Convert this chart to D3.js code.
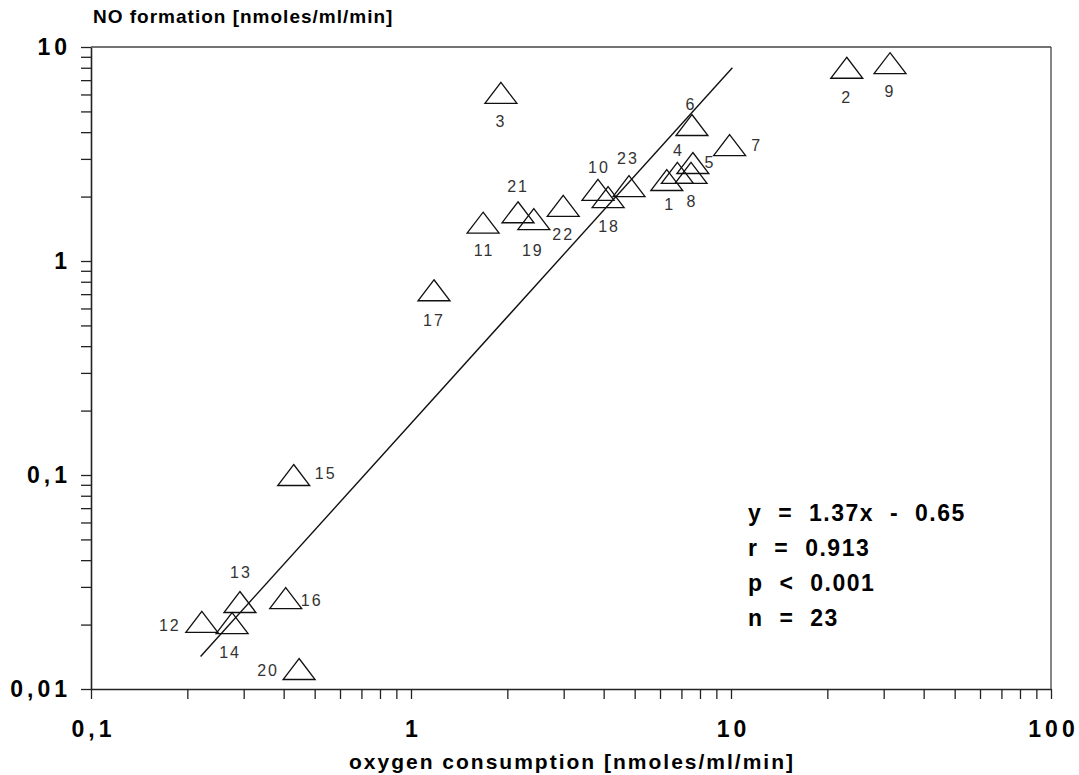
<!DOCTYPE html>
<html>
<head>
<meta charset="utf-8">
<script src="https://cdn.jsdelivr.net/npm/d3@7"></script>
<style>
  body { margin: 0; background: #fff; }
  text { font-family: "Liberation Sans", Arial, sans-serif; }
</style>
</head>
<body>
<svg id="chart" width="1079" height="775"></svg>
<script>
// sample ids, oxygen consumption (x) and NO formation (y)
const ids = ["1","2","3","4","5","6","7","8","9","10","11","12","13","14","15","16","17","18","19","20","21","22","23"];
const oxygen = [6.3, 23, 1.91, 6.8, 7.6, 7.55, 9.9, 7.5, 31.4, 3.84, 1.68, 0.222, 0.292, 0.276, 0.43, 0.406, 1.18, 4.13, 2.42, 0.447, 2.16, 2.99, 4.8];
const noForm = [2.39, 8.0, 6.1, 2.58, 2.87, 4.32, 3.48, 2.58, 8.4, 2.15, 1.51, 0.0206, 0.0255, 0.0203, 0.1, 0.0266, 0.73, 1.99, 1.57, 0.0124, 1.69, 1.81, 2.24];

// regression line end points
const fitX = [0.22, 10.1];
const fitY = [0.0142, 8.0];

const xTickLabels = ["0,1", "1", "10", "100"];
const yTickLabels = ["0,01", "0,1", "1", "10"];
const statsLines = ["y = 1.37x - 0.65", "r = 0.913", "p < 0.001", "n = 23"];

const svg = d3.select("#chart");
const margin = { top: 47, right: 28, bottom: 86, left: 91 };
const width = +svg.attr("width");
const height = +svg.attr("height");
const innerWidth = width - margin.left - margin.right;
const innerHeight = height - margin.top - margin.bottom;

const xScale = d3.scaleLog().domain([0.1, 100]).range([0, innerWidth]);
const yScale = d3.scaleLog().domain([0.01, 10]).range([innerHeight, 0]);

const g = svg.append("g").attr("transform", `translate(${margin.left},${margin.top})`);

// minor + major ticks for each decade
const logTicks = (lo, hi) => {
  const t = [];
  for (let d = lo; d < hi * 0.99; d *= 10) {
    for (let k = 1; k < 10; k++) t.push(d * k);
  }
  t.push(hi);
  return t;
};

const fmtX = d => {
  const i = [0.1, 1, 10, 100].findIndex(v => Math.abs(v - d) < 1e-9);
  return i >= 0 ? xTickLabels[i] : "";
};
const fmtY = d => {
  const i = [0.01, 0.1, 1, 10].findIndex(v => Math.abs(v - d) < 1e-9);
  return i >= 0 ? yTickLabels[i] : "";
};

const xAxis = g.append("g")
  .attr("transform", `translate(0,${innerHeight})`)
  .call(d3.axisBottom(xScale).tickValues(logTicks(0.1, 100)).tickSize(10).tickSizeOuter(0).tickFormat(fmtX));

const yAxis = g.append("g")
  .call(d3.axisLeft(yScale).tickValues(logTicks(0.01, 10)).tickSize(10).tickSizeOuter(0).tickFormat(fmtY));

[xAxis, yAxis].forEach(a => {
  a.select(".domain").attr("stroke", "#222").attr("stroke-width", 1.6);
  a.selectAll(".tick line").attr("stroke", "#222").attr("stroke-width", 1.3);
  a.selectAll(".tick text")
    .attr("fill", "#000")
    .style("font-size", "23px")
    .style("font-weight", "bold")
    .style("letter-spacing", "4px");
});
xAxis.selectAll(".tick text").attr("dy", "1.5em").attr("dx", 2);
yAxis.selectAll(".tick text").attr("x", -20);

// top and right frame
g.append("line").attr("x1", 0).attr("x2", innerWidth).attr("y1", 0).attr("y2", 0)
  .attr("stroke", "#444").attr("stroke-width", 1.5);
g.append("line").attr("x1", innerWidth).attr("x2", innerWidth).attr("y1", 0).attr("y2", innerHeight)
  .attr("stroke", "#444").attr("stroke-width", 1.3);

// regression line
g.append("line")
  .attr("x1", xScale(fitX[0])).attr("y1", yScale(fitY[0]))
  .attr("x2", xScale(fitX[1])).attr("y2", yScale(fitY[1]))
  .attr("stroke", "#111").attr("stroke-width", 1.4);

const points = ids.map((id, i) => ({ id, x: oxygen[i], y: noForm[i] }));

// triangle markers
const triW = 16, triH = 10.5;
g.selectAll(".tri")
  .data(points)
  .enter()
  .append("path")
  .attr("class", "tri")
  .attr("d", d => {
    const cx = xScale(d.x), cy = yScale(d.y);
    return `M${cx},${cy - triH}L${cx + triW},${cy + triH}L${cx - triW},${cy + triH}Z`;
  })
  .attr("fill", "none")
  .attr("stroke", "#111")
  .attr("stroke-width", 1.3);

// where each id label sits around its marker
const labelOffset = {
  "1": [3, 26], "2": [0, 31], "3": [0, 30], "4": [1, -21], "5": [17, 1], "6": [-1, -19],
  "7": [27, 2], "8": [1, 30], "9": [0, 30], "10": [1, -21], "11": [1, 29], "12": [-32, 5],
  "13": [1, -28], "14": [-2, 31], "15": [32, 0], "16": [26, 4], "17": [0, 32], "18": [1, 31],
  "19": [-1, 33], "20": [-31, 3], "21": [0, -24], "22": [0, 30], "23": [-1, -26]
};

g.selectAll(".lbl")
  .data(points)
  .enter()
  .append("text")
  .attr("class", "lbl")
  .attr("x", d => xScale(d.x) + labelOffset[d.id][0])
  .attr("y", d => yScale(d.y) + labelOffset[d.id][1])
  .attr("text-anchor", "middle")
  .attr("dominant-baseline", "middle")
  .attr("fill", "#333")
  .style("font-size", "16px")
  .style("letter-spacing", "2px")
  .text(d => d.id);

// statistics block
g.selectAll(".stat")
  .data(statsLines)
  .enter()
  .append("text")
  .attr("class", "stat")
  .attr("x", 657)
  .attr("y", (d, i) => 474 + i * 35)
  .attr("fill", "#000")
  .style("font-size", "23px")
  .style("font-weight", "bold")
  .style("letter-spacing", "1.5px")
  .style("word-spacing", "8px")
  .text(d => d);

// axis titles
svg.append("text")
  .attr("x", 93).attr("y", 23)
  .attr("fill", "#000")
  .style("font-size", "19px")
  .style("font-weight", "bold")
  .style("letter-spacing", "1px")
  .text("NO formation [nmoles/ml/min]");

svg.append("text")
  .attr("x", 572).attr("y", 769)
  .attr("text-anchor", "middle")
  .attr("fill", "#000")
  .style("font-size", "21px")
  .style("font-weight", "bold")
  .style("letter-spacing", "2px")
  .text("oxygen consumption [nmoles/ml/min]");
</script>
</body>
</html>
